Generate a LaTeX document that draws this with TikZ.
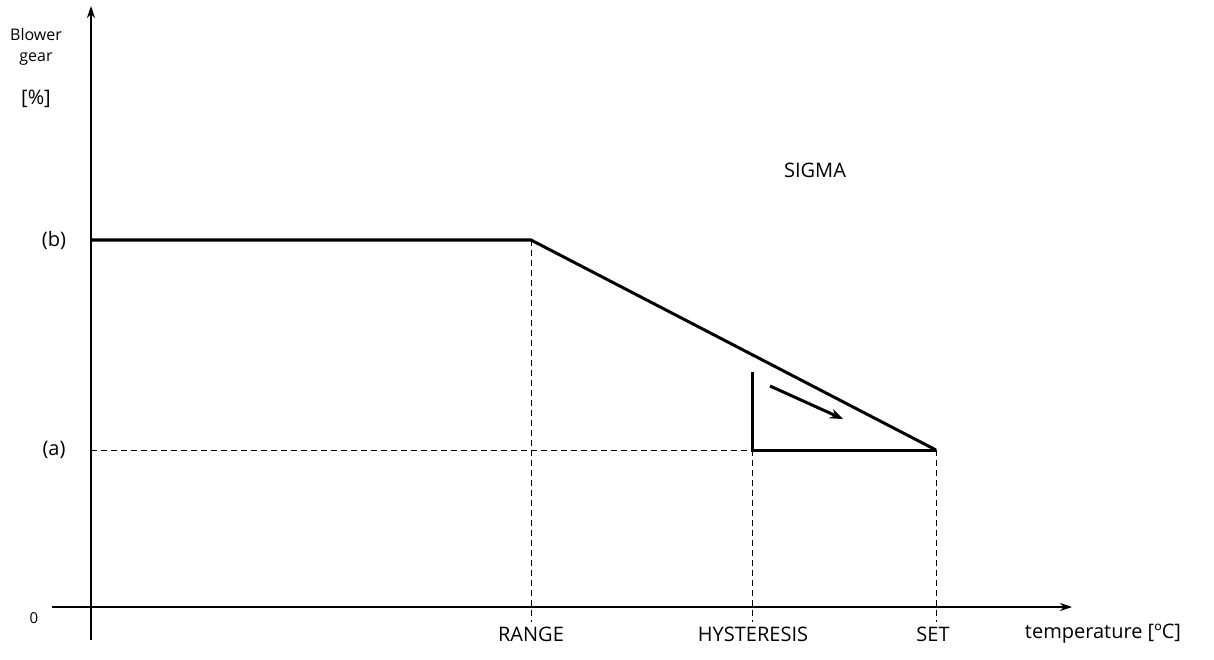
\documentclass[tikz,border=0pt]{standalone}
\usepackage{fontspec}
\setmainfont{Open Sans}
\usetikzlibrary{arrows.meta}
\begin{document}
\begin{tikzpicture}[x=1pt,y=-1pt,
  ax/.style={line width=1.3pt,-{Stealth[length=12pt,width=8pt]}},
  thick line/.style={line width=3pt},
  dsh/.style={dashed,line width=1pt,dash pattern=on 6pt off 4pt},
  lab/.style={font=\fontsize{20}{22}\selectfont,inner sep=0pt}]
\useasboundingbox (0,0) rectangle (1214,660);
\coordinate (o) at (91,607);
\coordinate (ytop) at (91,6);
\coordinate (xend) at (1072,607);
\coordinate (b) at (91,240);
\coordinate (r) at (531,240);
\coordinate (s) at (936,450);
\coordinate (a) at (91,450);
\coordinate (h) at (752,450);
\coordinate (ht) at (752,372);
\coordinate (p1) at (770,386);
\coordinate (p2) at (843,419);
\draw[ax] (91,640) -- (ytop);
\draw[ax] (52,607) -- (xend);
\draw[dsh] (a) -- (s);
\draw[dsh] (r) -- (531,622);
\draw[dsh] (h) -- (752,622);
\draw[dsh] (s) -- (936,622);
\draw[thick line,line join=miter] (b) -- (r) -- (s);
\draw[thick line,line join=miter] (ht) -- (h) -- (s);
\draw[line width=3pt,-{Stealth[length=13pt,width=10pt]}] (p1) -- (p2);
\node[font=\fontsize{16}{21}\selectfont,align=center,inner sep=0pt] (bg) at (36,47) {Blower\\gear};
\node[lab] (pc) at (36,99) {[\%]};
\node[lab] (lb) at (54,240) {(b)};
\node[lab] (la) at (54,450) {(a)};
\node[font=\fontsize{15}{17}\selectfont,inner sep=0pt] (z) at (34,618) {0};
\node[lab] (sig) at (815,170) {SIGMA};
\node[lab] (lr) at (531,634) {RANGE};
\node[lab] (lh) at (753,634) {HYSTERESIS};
\node[lab] (ls) at (933,634) {SET};
\node[lab] (lt) at (1103,634) {temperature [ºC]};
\end{tikzpicture}
\end{document}
